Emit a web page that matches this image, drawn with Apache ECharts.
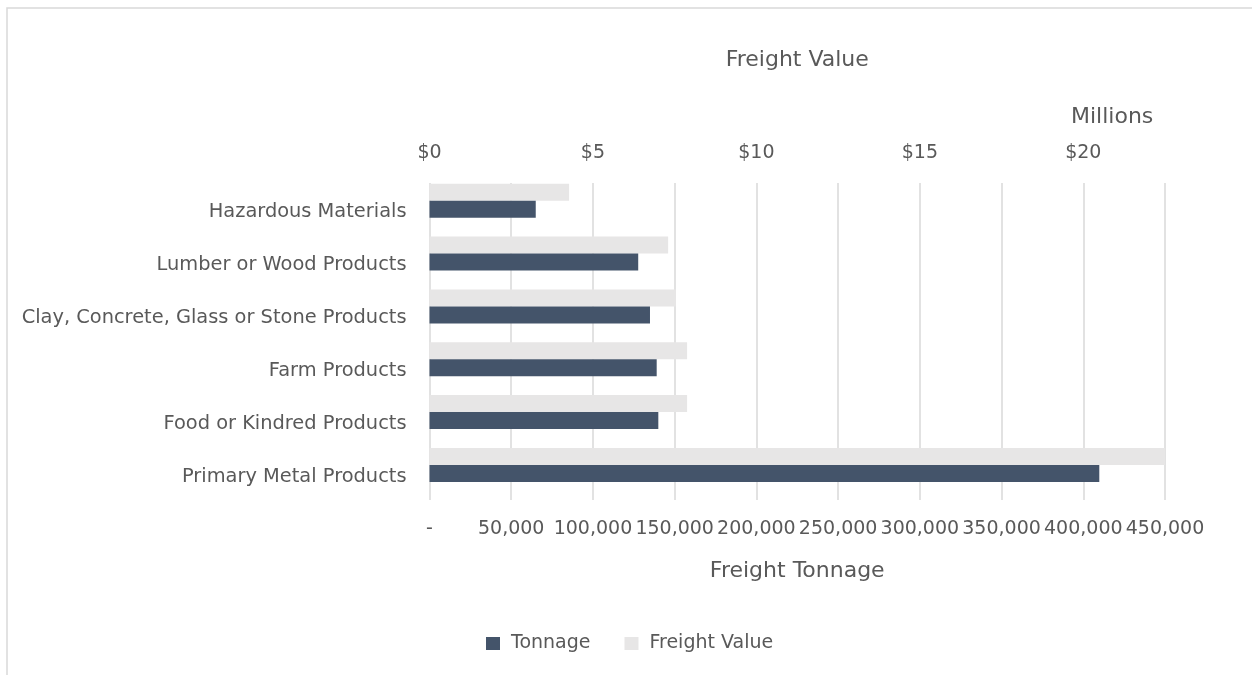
<!DOCTYPE html>
<html>
<head>
<meta charset="utf-8">
<style>
  html, body { margin: 0; padding: 0; background: #ffffff; }
  #chart { width: 1252px; height: 675px; }
</style>
<script src="https://cdn.jsdelivr.net/npm/echarts@6/dist/echarts.min.js"></script>
</head>
<body>
<div id="chart"></div>
<script>
// Commodity groups, listed bottom to top along the category axis
const categories = [
  'Primary Metal Products',
  'Food or Kindred Products',
  'Farm Products',
  'Clay, Concrete, Glass or Stone Products',
  'Lumber or Wood Products',
  'Hazardous Materials'
];

// Freight tonnage (tons)
const tonnage = [409800, 140000, 139000, 134900, 127700, 65000];

// Freight value (millions of dollars)
const freightValue = [22.5, 7.88, 7.88, 7.54, 7.3, 4.27];

// Tick values of the two value axes
const tonnageTicks = [0, 50000, 100000, 150000, 200000, 250000, 300000, 350000, 400000, 450000];
const valueTicks = [0, 5, 10, 15, 20];

const textColor = '#595959';
const fontFamily = '"DejaVu Sans", "Open Sans", sans-serif';
const tickSize = 19;
const categorySize = 19.4;
const titleSize = 22;

const chart = echarts.init(document.getElementById('chart'));

chart.setOption({
  animation: false,
  backgroundColor: '#ffffff',
  textStyle: { fontFamily: fontFamily, color: textColor },
  graphic: [
    {
      type: 'rect',
      shape: { x: 7, y: 8, width: 2000, height: 1000 },
      style: { fill: 'none', stroke: '#D9D9D9', lineWidth: 1.5 },
      silent: true
    },
    {
      type: 'text',
      left: 1071,
      top: 106,
      style: {
        text: 'Millions',
        fill: textColor,
        font: titleSize + 'px ' + fontFamily
      }
    }
  ],
  grid: { left: 429.5, right: 87, top: 183, bottom: 175, containLabel: false },
  legend: {
    top: 629,
    left: 481,
    itemWidth: 14,
    itemHeight: 13,
    itemGap: 34,
    textStyle: { color: textColor, fontSize: tickSize, fontFamily: fontFamily, padding: [0, 0, 0, 6] },
    data: [
      { name: 'Tonnage', icon: 'rect' },
      { name: 'Freight Value', icon: 'rect' }
    ]
  },
  xAxis: [
    {
      type: 'value',
      position: 'bottom',
      min: tonnageTicks[0],
      max: tonnageTicks[tonnageTicks.length - 1],
      interval: tonnageTicks[1] - tonnageTicks[0],
      name: 'Freight Tonnage',
      nameLocation: 'middle',
      nameGap: 60,
      nameTextStyle: { color: textColor, fontSize: titleSize, fontFamily: fontFamily },
      axisLine: { show: false },
      axisTick: { show: false },
      axisLabel: {
        color: textColor,
        fontSize: tickSize,
        fontFamily: fontFamily,
        margin: 20,
        formatter: function (v) {
          return v === 0 ? '-' : v.toLocaleString('en-US');
        }
      },
      splitLine: { show: true, lineStyle: { color: '#D9D9D9', width: 1.5 } }
    },
    {
      type: 'value',
      position: 'top',
      min: valueTicks[0],
      max: 22.5,
      interval: valueTicks[1] - valueTicks[0],
      name: 'Freight Value',
      nameLocation: 'middle',
      nameGap: 112,
      nameTextStyle: { color: textColor, fontSize: titleSize, fontFamily: fontFamily },
      axisLine: { show: false },
      axisTick: { show: false },
      axisLabel: {
        color: textColor,
        fontSize: tickSize,
        fontFamily: fontFamily,
        margin: 20,
        showMaxLabel: false,
        formatter: function (v) {
          return valueTicks.indexOf(v) >= 0 ? '$' + v : '';
        }
      },
      splitLine: { show: false }
    }
  ],
  yAxis: {
    type: 'category',
    data: categories,
    axisLine: { show: false },
    axisTick: { show: false },
    axisLabel: {
      color: textColor,
      fontFamily: fontFamily,
      margin: 23,
      formatter: function (v) { return '{c|' + v + '}'; },
      rich: {
        c: {
          color: textColor,
          fontSize: categorySize,
          fontFamily: fontFamily,
          padding: [6, 0, 0, 0]
        }
      }
    }
  },
  series: [
    {
      name: 'Freight Value',
      type: 'bar',
      xAxisIndex: 1,
      data: freightValue,
      barWidth: 17,
      barGap: '0%',
      itemStyle: { color: '#E7E6E6' }
    },
    {
      name: 'Tonnage',
      type: 'bar',
      xAxisIndex: 0,
      data: tonnage,
      barWidth: 17,
      barGap: '0%',
      itemStyle: { color: '#44546A' }
    },
    {
      // empty slot below each pair, so the pair sits above the band centre
      name: 'spacer',
      type: 'bar',
      xAxisIndex: 0,
      data: categories.map(function () { return null; }),
      barWidth: 17.4,
      barGap: '0%',
      silent: true,
      itemStyle: { color: 'transparent' }
    }
  ]
});
</script>
</body>
</html>
